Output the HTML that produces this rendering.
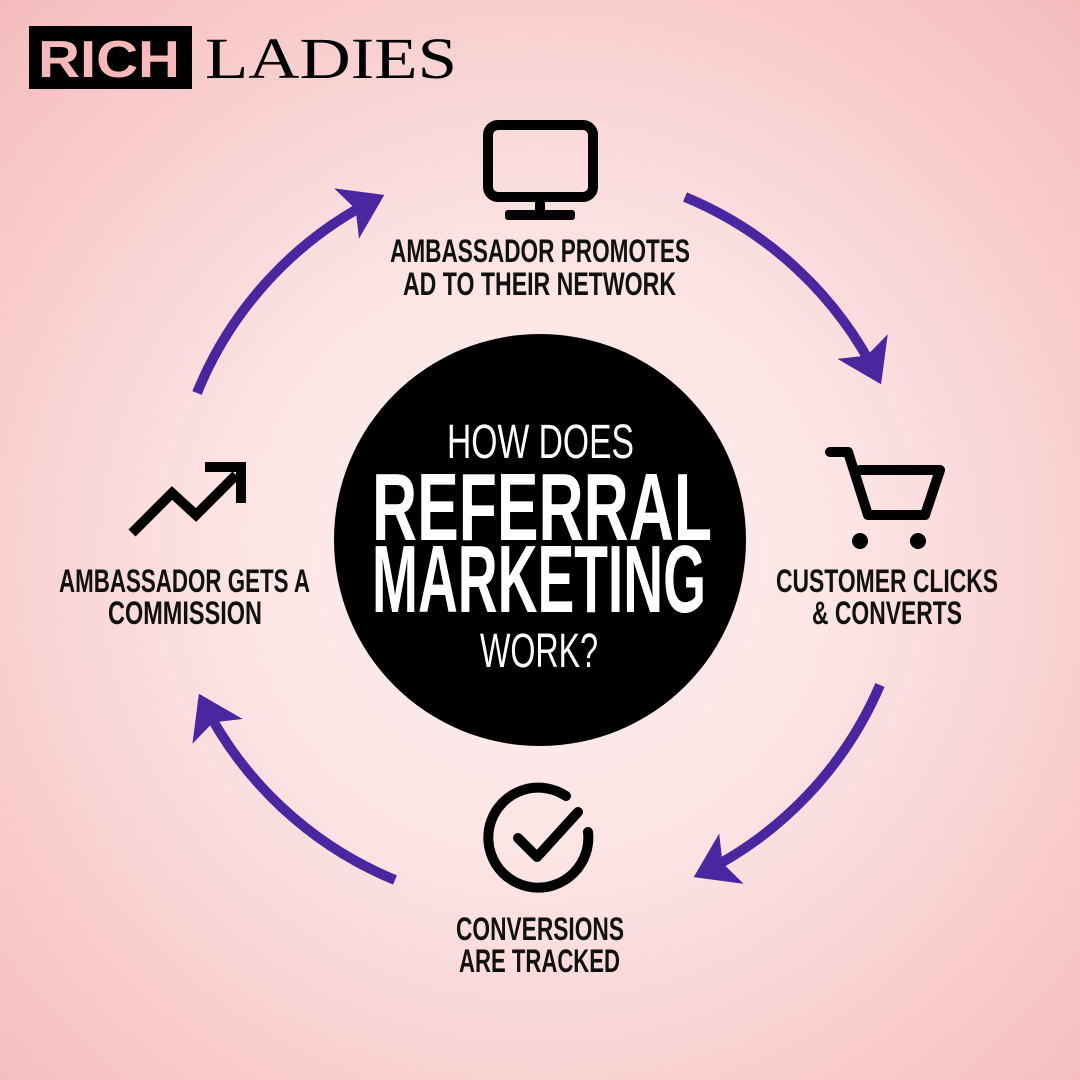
<!DOCTYPE html>
<html><head><meta charset="utf-8"><style>
html,body{margin:0;padding:0}
body{width:1080px;height:1080px;overflow:hidden;position:relative;
background:radial-gradient(circle at 540px 560px,#fdf0f0 0,#fce4e4 40%,#f8cccc 75%,#f5bcbc 100%)}
text{font-family:"Liberation Sans Narrow","Liberation Sans",sans-serif}
.l{font-weight:bold;font-size:32px;fill:#111}
.w{fill:#fff}
</style></head><body>
<svg width="1080" height="1080" style="position:absolute;left:0;top:0">
<defs><marker id="a" markerWidth="6" markerHeight="6" refX="3.5" refY="3" orient="auto" markerUnits="strokeWidth"><path d="M0,0.2 L4.2,3 L0,5.8 L1,3 z" fill="#4a26a0"/></marker></defs>
<rect x="29" y="26" width="163" height="63" fill="#000"/>
<text x="38" y="77" textLength="142" lengthAdjust="spacingAndGlyphs" style="font-family:'Liberation Sans',sans-serif;font-weight:bold;font-size:52px;fill:#f6b8b8">RICH</text>
<text x="205" y="78" textLength="252" lengthAdjust="spacingAndGlyphs" style="font-family:'Liberation Serif',serif;font-size:58px;fill:#000">LADIES</text>
<g fill="none" stroke="#4a26a0" stroke-width="10" marker-end="url(#a)">
<path d="M685,197 A374,374 0 0 1 878,378"/>
<path d="M880,685 A374,374 0 0 1 700,874"/>
<path d="M395,880 A374,374 0 0 1 202,700"/>
<path d="M197,393 A374,374 0 0 1 378,198"/>
</g>
<circle cx="540" cy="540" r="206" fill="#000"/>
<rect x="488" y="125" width="105" height="72" rx="10" fill="none" stroke="#000" stroke-width="10"/>
<rect x="535" y="197" width="10" height="18" fill="#000"/>
<rect x="505" y="210" width="70" height="10" rx="3" fill="#000"/>
<path d="M830,452 H848 L868,515 H925 L940,470 H860" fill="none" stroke="#000" stroke-width="10" stroke-linejoin="round" stroke-linecap="round"/>
<circle cx="860" cy="541" r="8" fill="#000"/><circle cx="918" cy="541" r="8" fill="#000"/>
<path d="M588,832 A50,50 0 1 1 566,796" fill="none" stroke="#000" stroke-width="10" stroke-linecap="round"/>
<path d="M518,838 L537,857 L578,812" fill="none" stroke="#000" stroke-width="10" stroke-linecap="round" stroke-linejoin="round"/>
<path d="M132,533 L172,493 L196,515 L236,475" fill="none" stroke="#000" stroke-width="10"/>
<path d="M205,467 H241 V503" fill="none" stroke="#000" stroke-width="10"/>

<text class="w" x="447" y="458" textLength="187" lengthAdjust="spacingAndGlyphs" font-size="48">HOW DOES</text>
<text class="w" x="372" y="540" textLength="340" lengthAdjust="spacingAndGlyphs" font-size="96" font-weight="bold">REFERRAL</text>
<text class="w" x="372" y="612" textLength="334" lengthAdjust="spacingAndGlyphs" font-size="96" font-weight="bold">MARKETING</text>
<text class="w" x="480" y="667" textLength="118" lengthAdjust="spacingAndGlyphs" font-size="48">WORK?</text>

<text class="l" x="390" y="262" textLength="300" lengthAdjust="spacingAndGlyphs">AMBASSADOR PROMOTES</text>
<text class="l" x="403" y="295" textLength="273" lengthAdjust="spacingAndGlyphs">AD TO THEIR NETWORK</text>
<text class="l" x="776" y="592" textLength="222" lengthAdjust="spacingAndGlyphs">CUSTOMER CLICKS</text>
<text class="l" x="812" y="624" textLength="150" lengthAdjust="spacingAndGlyphs">&amp; CONVERTS</text>
<text class="l" x="456" y="940" textLength="168" lengthAdjust="spacingAndGlyphs">CONVERSIONS</text>
<text class="l" x="459" y="972" textLength="161" lengthAdjust="spacingAndGlyphs">ARE TRACKED</text>
<text class="l" x="59" y="592" textLength="251" lengthAdjust="spacingAndGlyphs">AMBASSADOR GETS A</text>
<text class="l" x="108" y="624" textLength="154" lengthAdjust="spacingAndGlyphs">COMMISSION</text>
</svg>
</body></html>
